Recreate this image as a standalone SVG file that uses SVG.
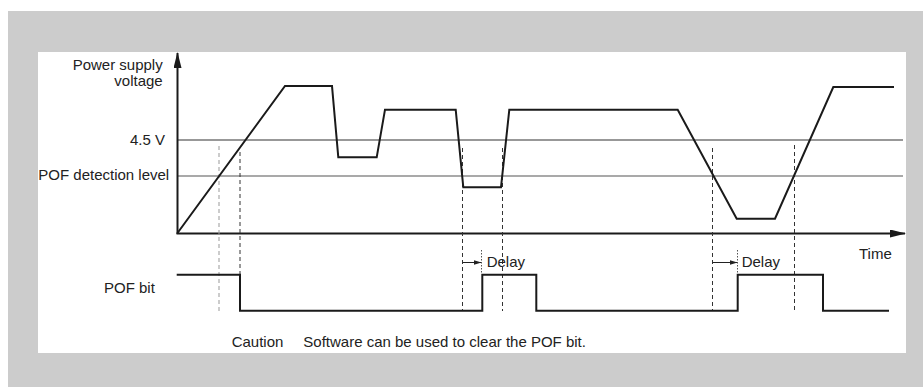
<svg xmlns="http://www.w3.org/2000/svg" width="923" height="387" viewBox="0 0 923 387">
<defs>
<style>
text{font-family:"Liberation Sans",Arial,sans-serif;font-size:15px;fill:#222}
.axis{stroke:#1a1a1a;stroke-width:2;fill:none}
.wave{stroke:#1a1a1a;stroke-width:2;fill:none;stroke-linejoin:miter}
.thr{stroke:#333;stroke-width:1.2;fill:none}
.thr2{stroke:#555;stroke-width:1.2;fill:none}
.dash{stroke:#333;stroke-width:1;stroke-dasharray:4 3;fill:none}
.dashl{stroke:#999;stroke-width:1;stroke-dasharray:4 3;fill:none}
.dot{stroke:#555;stroke-width:1;stroke-dasharray:1.5 1.5;fill:none}
.arr{stroke:#222;stroke-width:1;fill:none}
</style>
<marker id="big" markerWidth="16" markerHeight="8" refX="15" refY="4" orient="auto" markerUnits="userSpaceOnUse">
<path d="M0,0 L16,4 L0,8 Z" fill="#1a1a1a"/>
</marker>
<marker id="small" markerWidth="8" markerHeight="5" refX="7.5" refY="2.5" orient="auto" markerUnits="userSpaceOnUse">
<path d="M0,0 L8,2.5 L0,5 Z" fill="#222"/>
</marker>
</defs>
<rect x="0" y="0" width="923" height="387" fill="#ffffff"/>
<rect x="8" y="11" width="915" height="376" fill="#cccccc"/>
<rect x="38" y="52" width="868" height="301" fill="#ffffff"/>
<g id="thresholds">
<line class="thr" x1="177.5" y1="140" x2="903" y2="140"/>
<line class="thr2" x1="177.5" y1="176" x2="903" y2="176"/>
</g>
<g id="axes">
<line class="axis" x1="177.5" y1="234" x2="177.5" y2="53" marker-end="url(#big)"/>
<line class="axis" x1="176.5" y1="233.5" x2="905" y2="233.5" marker-end="url(#big)"/>
</g>
<g id="guides">
<line class="dashl" x1="219" y1="146" x2="219" y2="312"/>
<line class="dash" x1="240" y1="152" x2="240" y2="311"/>
<line class="dash" x1="462.5" y1="148" x2="462.5" y2="311"/>
<line class="dash" x1="502.5" y1="148" x2="502.5" y2="311"/>
<line class="dash" x1="712.5" y1="148" x2="712.5" y2="311"/>
<line class="dash" x1="794.5" y1="145" x2="794.5" y2="311"/>
<line class="dot" x1="481.5" y1="250" x2="481.5" y2="274"/>
<line class="dot" x1="737.5" y1="250" x2="737.5" y2="274"/>
</g>
<g id="voltage-wave">
<polyline class="wave" points="177.5,233 285,86 332,86 338.3,157.3 376.7,157.3 385,109.7 455.7,109.7 463.3,187.3 501,187.3 509.3,109.7 677.7,109.7 736.7,218.7 775,218.7 833.3,87 894,87"/>
</g>
<g id="pof-bit-wave">
<path class="wave" d="M176.7 274.7 H240 V310.7 H482.3 V274.7 H536.3 V310.7 H737.7 V274.7 H823 V310.7 H889"/>
</g>
<g id="delay-arrows">
<line class="arr" x1="462.5" y1="262.5" x2="481" y2="262.5" marker-end="url(#small)"/>
<line class="arr" x1="712.5" y1="262.5" x2="737" y2="262.5" marker-end="url(#small)"/>
</g>
<g id="labels">
<text x="162.7" y="70" text-anchor="end">Power supply</text>
<text x="162.7" y="86" text-anchor="end">voltage</text>
<text x="165" y="144.5" text-anchor="end">4.5 V</text>
<text x="38.3" y="179.5">POF detection level</text>
<text x="859" y="258.5">Time</text>
<text x="104" y="292.5">POF bit</text>
<text x="486.7" y="267">Delay</text>
<text x="741.7" y="267">Delay</text>
<text x="231.7" y="346.5">Caution</text>
<text x="303.3" y="346.5">Software can be used to clear the POF bit.</text>
</g>
</svg>
